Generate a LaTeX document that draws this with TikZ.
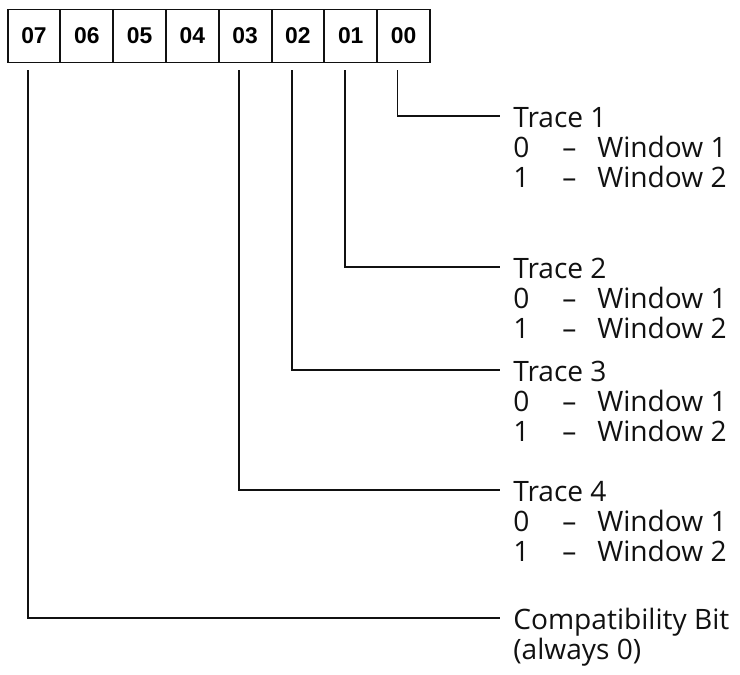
\documentclass[tikz,border=0pt]{standalone}
\usepackage{fontspec}
\setmainfont{Open Sans}
\newfontfamily\boxfont{Liberation Sans}
\usetikzlibrary{positioning,calc}
\definecolor{inkline}{HTML}{111111}
\tikzset{
  bitbox/.style={draw=inkline,line width=1.1pt,minimum width=1.056cm,minimum height=1.06cm,inner sep=0pt,outer sep=0pt,font=\boxfont\bfseries\fontsize{13}{14}\selectfont},
  lbl/.style={anchor=west,inner xsep=0.26cm,inner ysep=0pt,text height=14.5pt,text depth=1.1pt,text=inkline,font=\fontsize{16}{18}\selectfont},
  lead/.style={line width=1.1pt,color=inkline},
}
\newcommand{\winrow}[2]{\makebox[0.98cm][l]{#1}\makebox[0.7cm][l]{--}Window #2}

\begin{document}
\begin{tikzpicture}[x=0.02cm,y=-0.02cm]
  \useasboundingbox (0,0) rectangle (740,675);
  % bit register
  \node[bitbox] (b7) at (34,36) {07};
  \node[bitbox,right=0pt of b7] (b6) {06};
  \node[bitbox,right=0pt of b6] (b5) {05};
  \node[bitbox,right=0pt of b5] (b4) {04};
  \node[bitbox,right=0pt of b4] (b3) {03};
  \node[bitbox,right=0pt of b3] (b2) {02};
  \node[bitbox,right=0pt of b2] (b1) {01};
  \node[bitbox,right=0pt of b1] (b0) {00};
  % drop points under the bits
  \coordinate (d7) at ([xshift=-0.12cm,yshift=-0.16cm]b7.south);
  \coordinate (d3) at ([xshift=-0.12cm,yshift=-0.16cm]b3.south);
  \coordinate (d2) at ([xshift=-0.12cm,yshift=-0.16cm]b2.south);
  \coordinate (d1) at ([xshift=-0.12cm,yshift=-0.16cm]b1.south);
  \coordinate (d0) at ([xshift=-0.12cm,yshift=-0.16cm]b0.south);
  % meanings
  \node[lbl] (t1) at (500,116) {Trace 1};
  \node[lbl] (t1a) at ([yshift=-0.6cm]t1.west) {\winrow{0}{1}};
  \node[lbl] (t1b) at ([yshift=-0.6cm]t1a.west) {\winrow{1}{2}};
  \node[lbl] (t2) at (500,267) {Trace 2};
  \node[lbl] (t2a) at ([yshift=-0.6cm]t2.west) {\winrow{0}{1}};
  \node[lbl] (t2b) at ([yshift=-0.6cm]t2a.west) {\winrow{1}{2}};
  \node[lbl] (t3) at (500,370) {Trace 3};
  \node[lbl] (t3a) at ([yshift=-0.6cm]t3.west) {\winrow{0}{1}};
  \node[lbl] (t3b) at ([yshift=-0.6cm]t3a.west) {\winrow{1}{2}};
  \node[lbl] (t4) at (500,490) {Trace 4};
  \node[lbl] (t4a) at ([yshift=-0.6cm]t4.west) {\winrow{0}{1}};
  \node[lbl] (t4b) at ([yshift=-0.6cm]t4a.west) {\winrow{1}{2}};
  \node[lbl] (cb) at (500,618) {Compatibility Bit};
  \node[lbl] (cba) at ([yshift=-0.6cm]cb.west) {(always 0)};
  % leads
  \draw[lead] (d0) |- (t1.west);
  \draw[lead] (d1) |- (t2.west);
  \draw[lead] (d2) |- (t3.west);
  \draw[lead] (d3) |- (t4.west);
  \draw[lead] (d7) |- (cb.west);
\end{tikzpicture}
\end{document}
